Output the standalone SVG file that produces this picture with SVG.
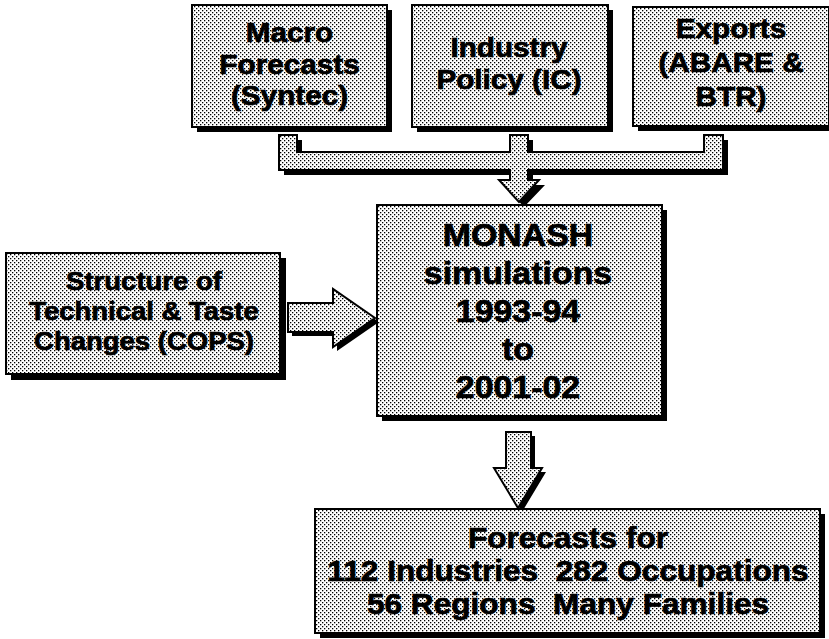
<svg xmlns="http://www.w3.org/2000/svg" width="829" height="639" viewBox="0 0 829 639">
<defs>
<pattern id="dots" x="0" y="0" width="4" height="4" patternUnits="userSpaceOnUse">
<rect width="4" height="4" fill="#ffffff"/>
<rect x="0" y="0" width="1.3" height="1.3" fill="#000"/>
<rect x="2" y="2" width="1.3" height="1.3" fill="#000"/>
</pattern>
</defs>
<style>
.box{fill:url(#dots);stroke:#000;stroke-width:2}
.sh{fill:#000}
.t{font-family:"Liberation Sans",Arial,Helvetica,sans-serif;font-weight:bold;fill:#000;stroke:#000;stroke-width:0.7;text-anchor:middle}
</style>
<rect width="829" height="639" fill="#fff"/>

<g id="connectors">
<path class="sh" d="M284,140 H302 V157 H515 V140 H533 V157 H709 V140 H728 V175 H533 V185 H545 L524,207 L504,185 H515 V175 H284 Z"/>
<path class="box" d="M279,135 H297 V152 H510 V135 H528 V152 H704 V135 H723 V170 H528 V180 H539 L519,202 L499,180 H510 V170 H279 Z"/>
<path class="sh" d="M292,307 H337 V293 L379,322 L337,351 V336 H292 Z"/>
<path class="box" d="M288,303 H333 V289 L375,318 L333,347 V332 H288 Z"/>
<path class="sh" d="M510,436 H535 V472 H546 L522,512 L498,472 H510 Z"/>
<path class="box" d="M506,432 H531 V468 H542 L518,508 L494,468 H506 Z"/>
</g>

<g id="macro">
<rect class="sh" x="197" y="10" width="195" height="122"/>
<rect class="box" x="192" y="5" width="195" height="122"/>
<g transform="translate(289.5 0) scale(1.1 1)" class="t" font-size="27">
<text x="0" y="42">Macro</text>
<text x="0" y="74">Forecasts</text>
<text x="0" y="105">(Syntec)</text>
</g>
</g>

<g id="industry">
<rect class="sh" x="417" y="10" width="196" height="122"/>
<rect class="box" x="412" y="5" width="196" height="122"/>
<g transform="translate(509 0) scale(1.1 1)" class="t" font-size="27">
<text x="0" y="57">Industry</text>
<text x="0" y="89">Policy (IC)</text>
</g>
</g>

<g id="exports">
<rect class="sh" x="638" y="12" width="196" height="119"/>
<rect class="box" x="633" y="7" width="196" height="119"/>
<g transform="translate(731 0) scale(1.1 1)" class="t" font-size="27">
<text x="0" y="38">Exports</text>
<text x="0" y="72">(ABARE &amp;</text>
<text x="0" y="106">BTR)</text>
</g>
</g>

<g id="structure">
<rect class="sh" x="11" y="258" width="275" height="122"/>
<rect class="box" x="6" y="253" width="274" height="121"/>
<g transform="translate(144 0) scale(1.1 1)" class="t" font-size="25">
<text x="0" y="290">Structure of</text>
<text x="0" y="320">Technical &amp; Taste</text>
<text x="0" y="350">Changes (COPS)</text>
</g>
</g>

<g id="monash">
<rect class="sh" x="382" y="210" width="285" height="211"/>
<rect class="box" x="377" y="205" width="285" height="211"/>
<g transform="translate(518 0) scale(1.06 1)" class="t" font-size="32">
<text x="0" y="246">MONASH</text>
<text x="0" y="284">simulations</text>
<text x="0" y="322">1993-94</text>
<text x="0" y="360">to</text>
<text x="0" y="398">2001-02</text>
</g>
</g>

<g id="forecasts">
<rect class="sh" x="320" y="514" width="505" height="124"/>
<rect class="box" x="315" y="509" width="505" height="124"/>
<g transform="translate(568 0) scale(1.09 1)" class="t" font-size="29">
<text x="0" y="548">Forecasts for</text>
<text x="0" y="581" xml:space="preserve">112 Industries  282 Occupations</text>
<text x="0" y="614" xml:space="preserve">56 Regions  Many Families</text>
</g>
</g>
</svg>
